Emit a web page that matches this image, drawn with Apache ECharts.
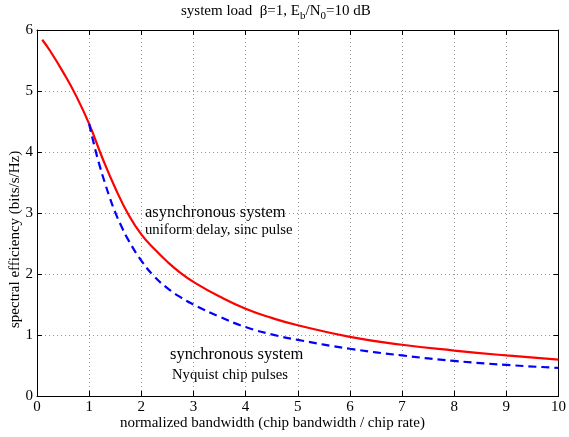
<!DOCTYPE html>
<html><head><meta charset="utf-8">
<script src="https://cdn.jsdelivr.net/npm/echarts@6/dist/echarts.min.js"></script>
<style>html,body{margin:0;padding:0;background:#fff}#c{width:569px;height:437px}</style>
</head><body><div id="c"></div>
<script>
const xTicks = [0,1,2,3,4,5,6,7,8,9,10];
const yTicks = [0,1,2,3,4,5,6];
const asyncX = [0.1,0.25,0.5,0.75,1.0,1.25,1.5,1.75,2.0,2.25,2.5,2.75,3,3.5,4,4.5,5,6,7,8,9,10];
const asyncY = [5.84,5.66,5.31,4.92,4.46,3.91,3.41,2.98,2.65,2.41,2.2,2.02,1.87,1.63,1.43,1.28,1.16,0.97,0.84,0.745,0.665,0.595];
const syncX = [1.0,1.1,1.2,1.3,1.4,1.5,1.625,1.75,2.0,2.25,2.5,2.75,3,3.5,4,4.5,5,6,7,8,9,10];
const syncY = [4.46,4.1,3.78,3.5,3.24,3.01,2.77,2.56,2.22,1.96,1.77,1.62,1.5,1.3,1.13,1.01,0.92,0.775,0.665,0.575,0.51,0.46];

const FONT = '"Liberation Serif", "DejaVu Serif", serif';
const chart = echarts.init(document.getElementById('c'), null, {renderer:'canvas'});
const axisCommon = {
  min: 0, interval: 1,
  axisLine: {show: true, onZero: false, lineStyle: {color: '#000', width: 1}},
  axisTick: {show: true, inside: true, length: 5, lineStyle: {color: '#000'}},
};
const gridLine = {show: true, lineStyle: {color: '#999', type: [1,3], width: 1}};
chart.setOption({
  animation: false,
  backgroundColor: '#fff',
  grid: {left: 37, right: 10, top: 30, bottom: 41, containLabel: false},
  xAxis: [
    Object.assign({}, axisCommon, {type: 'value', max: 10, position: 'bottom',
      axisLabel: {fontFamily: FONT, fontSize: 15, color: '#000', margin: 4, formatter: v => xTicks.includes(v) ? String(v) : ''},
      splitLine: gridLine}),
    Object.assign({}, axisCommon, {type: 'value', max: 10, position: 'top',
      axisLabel: {show: false}, splitLine: {show: false}})
  ],
  yAxis: [
    Object.assign({}, axisCommon, {type: 'value', max: 6, position: 'left',
      axisLabel: {fontFamily: FONT, fontSize: 15, color: '#000', margin: 4, formatter: v => yTicks.includes(v) ? String(v) : ''},
      splitLine: gridLine}),
    Object.assign({}, axisCommon, {type: 'value', max: 6, position: 'right',
      axisLabel: {show: false}, splitLine: {show: false}})
  ],
  series: [
    {type: 'line', name: 'asynchronous', data: asyncX.map((x,i)=>[x, asyncY[i]]),
      smooth: 0.5, showSymbol: false, lineStyle: {color: '#ff0000', width: 2.2}},
    {type: 'line', name: 'synchronous', data: syncX.map((x,i)=>[x, syncY[i]]),
      smooth: 0.5, showSymbol: false, lineStyle: {color: '#0000ff', width: 2.2, type: [8,5]}}
  ],
  graphic: [
    {type: 'text', left: 181, top: 4, style: {
      text: 'system load  β=1, E{s|b}/N{s|0}=10 dB', fontFamily: FONT, fontSize: 15, fill: '#000',
      rich: {s: {fontFamily: FONT, fontSize: 11, verticalAlign: 'bottom', padding: [10,0,0,0]}}}},
    {type: 'text', left: 120, top: 416, style: {text: 'normalized bandwidth (chip bandwidth / chip rate)', fontFamily: FONT, fontSize: 15, fill: '#000'}},
    {type: 'text', x: 8, y: 328, rotation: Math.PI/2, style: {text: 'spectral efficiency (bits/s/Hz)', fontFamily: FONT, fontSize: 15, fill: '#000'}},
    {type: 'text', x: 145, y: 212.5, style: {text: 'asynchronous system', fontFamily: FONT, fontSize: 16.5, fill: '#000', verticalAlign: 'middle'}},
    {type: 'text', x: 145, y: 230, style: {text: 'uniform delay, sinc pulse', fontFamily: FONT, fontSize: 14.7, fill: '#000', verticalAlign: 'middle'}},
    {type: 'text', x: 170, y: 354.5, style: {text: 'synchronous system', fontFamily: FONT, fontSize: 16.5, fill: '#000', verticalAlign: 'middle'}},
    {type: 'text', x: 172, y: 375, style: {text: 'Nyquist chip pulses', fontFamily: FONT, fontSize: 14.7, fill: '#000', verticalAlign: 'middle'}}
  ]
});
</script></body></html>
